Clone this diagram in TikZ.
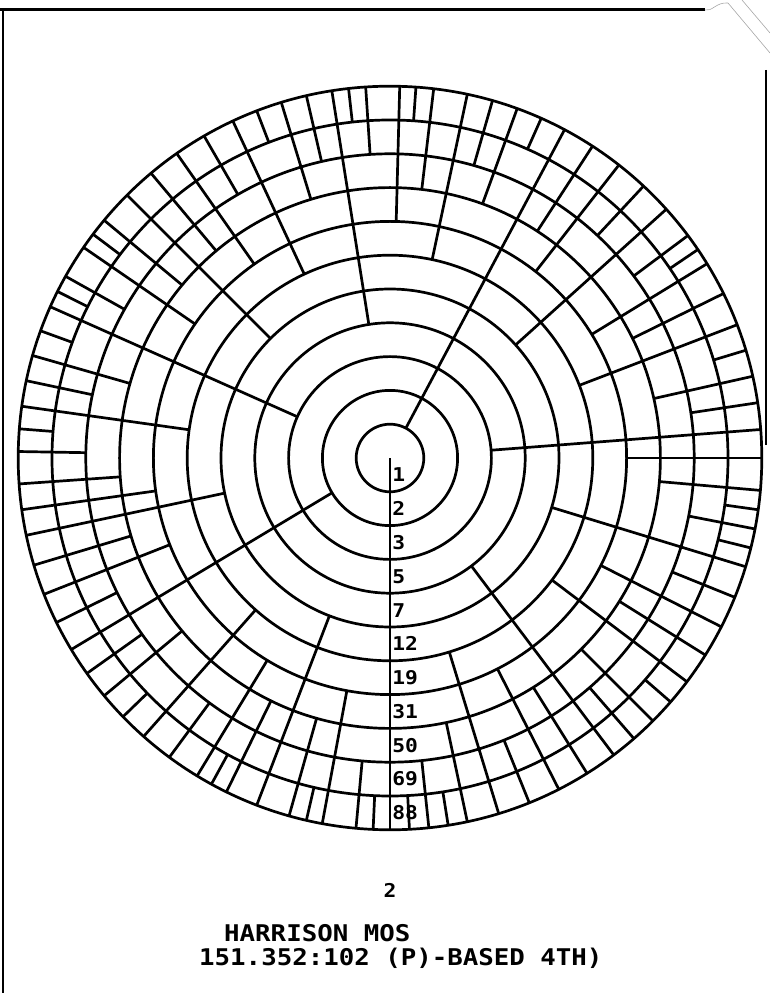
\documentclass[tikz,border=0pt]{standalone}
\usepackage{fontspec}
\newfontfamily\plotfont{DejaVu Sans Mono}
\newcommand\ringdividers[2]{%
  \foreach \a in {#2} \draw[grid] (\a:{33.8*(#1-1)}) -- (\a:372);}
\begin{document}
\begin{tikzpicture}[x=1pt,y=1pt,
  grid/.style={line width=2.7pt},
  frame/.style={line width=2.2pt},
  paper/.style={line width=0.6pt, gray!70},
  ringlab/.style={font=\plotfont\fontsize{19}{19}\selectfont, inner sep=1pt, anchor=west, xscale=1.12},
  caption/.style={font=\plotfont\fontsize{23}{23}\selectfont, inner sep=0pt, anchor=west, xscale=1.12}]
\useasboundingbox (-390,-535) rectangle (380,458);
% page frame
\draw[line width=3pt] (-390,448) -- (315,448);
\draw[frame] (-387,448) -- (-387,-535);
\draw[frame] (376,388) -- (376,13);
\draw[paper] (315,448) .. controls (322,446) and (326,456) .. (338,455);
\draw[paper] (338,455) -- (380,405);
\draw[paper] (352,458) -- (380,425);
% rings
\foreach \k in {1,...,11} \draw[grid] (0,0) circle ({33.8*\k});
% axis
\coordinate (c) at (0,0);
\coordinate (axisend) at (270:372);
\draw[grid] (c) -- (axisend);
% radial dividers by the ring in which they first appear
\ringdividers{2}{62}
\ringdividers{3}{211}
\ringdividers{4}{4.4,156}
\ringdividers{5}{99,307}
\ringdividers{6}{42,135,192,249,343}
\ringdividers{7}{21,78,115,172,228.5,287,323}
\ringdividers{8}{0,31.5,52,88.5,125,145.5,188,201.5,238.75,259.5,297,333}
\ringdividers{9}{12.7,26.25,57,70,83.25,107,130,140.25,164,184,196.75,219.75,243.9,254.25,282,302,315,328,355}
\ringdividers{10}{8.55,36.75,47,74,93.75,103,120,150.75,168,179,206.25,215.4,233.6,264.75,276,292,311,338,349}
\ringdividers{11}{16.85,34.1,66,86,96.4,111,143,153.4,160,175.5,224.1,241.3,257,267.4,273,279,319,346,352}
% ring labels
\node[ringlab] (l1) at (1,-16.9) {\bfseries 1};
\node[ringlab] (l2) at (1,-50.7) {\bfseries 2};
\node[ringlab] (l3) at (1,-84.5) {\bfseries 3};
\node[ringlab] (l5) at (1,-118.3) {\bfseries 5};
\node[ringlab] (l7) at (1,-152.1) {\bfseries 7};
\node[ringlab] (l12) at (1,-185.9) {\bfseries 12};
\node[ringlab] (l19) at (1,-219.7) {\bfseries 19};
\node[ringlab] (l31) at (1,-253.5) {\bfseries 31};
\node[ringlab] (l50) at (1,-287.3) {\bfseries 50};
\node[ringlab] (l69) at (1,-321.1) {\bfseries 69};
\node[ringlab] (l88) at (1,-354.9) {\bfseries 88};
% captions
\node[ringlab, anchor=center] (num) at (0,-432) {\bfseries 2};
\node[caption] (t1) at (-166,-475) {\bfseries HARRISON MOS};
\node[caption] (t2) at (-191,-500) {\bfseries 151.352:102 (P)-BASED 4TH)};
\end{tikzpicture}
\end{document}
